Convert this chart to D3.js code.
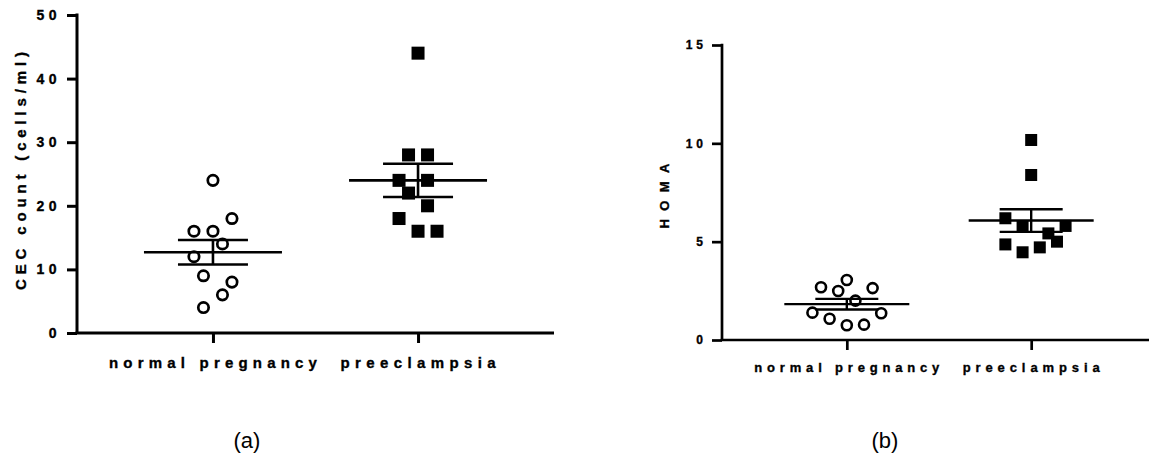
<!DOCTYPE html>
<html>
<head>
<meta charset="utf-8">
<script src="https://cdn.jsdelivr.net/npm/d3@7"></script>
<style>
  body { margin: 0; background: #fff; }
  svg { display: block; }
  text { font-family: "Liberation Sans", Arial, sans-serif; }
  .heavy { stroke: #000; stroke-width: 0.35px; }
</style>
</head>
<body>
<svg id="chart" width="1149" height="471"></svg>
<script>
// groups on the x axis
var groups = ["normal pregnancy", "preeclampsia"];

// panel (a): CEC count
var cecNormal = [24, 16, 16, 18, 14, 12, 9, 8, 6, 4];
var cecNormalCol = [0, -2, 0, 2, 1, -2, -1, 2, 1, -1];
var cecPre = [44, 28, 28, 24, 24, 22, 20, 18, 16, 16];
var cecPreCol = [0, -1, 1, -2, 1, -1, 1, -2, 0, 2];
var cecTicks = [0, 10, 20, 30, 40, 50];

// panel (b): HOMA
var homaNormal = [3.05, 2.68, 2.64, 2.49, 2.0, 1.39, 1.36, 1.08, 0.75, 0.78];
var homaNormalCol = [0, -3, 3, -1, 1, -4, 4, -2, 0, 2];
var homaPre = [10.17, 8.39, 6.19, 5.76, 5.80, 5.42, 5.00, 4.86, 4.71, 4.46];
var homaPreCol = [0, 0, -3, -1, 4, 2, 3, -3, 1, -1];
var homaTicks = [0, 5, 10, 15];

var svg = d3.select('#chart');

function drawPanel(p) {
    var g = svg.append('g');

    var x = d3.scalePoint().domain(groups).range([p.left, p.right]).padding(p.pad);
    var y = d3.scaleLinear().domain([0, p.yMax]).range([p.bottom, p.top]);
    var col = d3.scaleLinear().domain([0, 1]).range([0, p.colStep]);

    // y axis (ticks and labels from d3, heavy line drawn over the domain)
    var yAxisG = g.append('g')
        .attr('transform', 'translate(' + p.left + ',0)')
        .call(d3.axisLeft(y).tickValues(p.ticks).tickSize(10).tickSizeOuter(0).tickPadding(p.tickPad));
    yAxisG.selectAll('text')
        .attr('class', 'heavy')
        .style('font-size', p.tickFont + 'px')
        .style('font-weight', 'bold')
        .style('letter-spacing', p.tickSpacing + 'px')
        .attr('fill', '#000');

    var xAxisG = g.append('g')
        .attr('transform', 'translate(0,' + p.bottom + ')')
        .call(d3.axisBottom(x).tickSize(10).tickSizeOuter(0).tickFormat(''));

    [yAxisG, xAxisG].forEach(function(a) {
        a.select('.domain').remove();
        a.selectAll('.tick line')
            .attr('stroke', '#000')
            .attr('stroke-width', p.axisW);
    });

    var yr = y.range(), xr = x.range();
    g.append('line')
        .attr('x1', p.left).attr('x2', p.left)
        .attr('y1', yr[0]).attr('y2', yr[1] - p.axisW / 2)
        .attr('stroke', '#000').attr('stroke-width', p.axisW);
    g.append('line')
        .attr('x1', xr[0] - p.axisW / 2).attr('x2', xr[1])
        .attr('y1', p.bottom).attr('y2', p.bottom)
        .attr('stroke', '#000').attr('stroke-width', p.axisW);

    // category labels, letter-spaced like the original
    g.selectAll('.cat').data(groups).enter()
        .append('text')
        .attr('class', 'cat heavy')
        .attr('x', function(d) { return x(d); })
        .attr('y', p.catY)
        .attr('text-anchor', 'middle')
        .attr('textLength', function(d, i) { return p.catWidths[i]; })
        .attr('lengthAdjust', 'spacing')
        .style('font-size', p.catFont + 'px')
        .style('font-weight', 'bold')
        .text(function(d) { return d; });

    // y axis title
    g.append('text')
        .attr('class', 'heavy')
        .attr('transform', 'translate(' + p.titleX + ',' + p.titleY + ') rotate(-90)')
        .attr('text-anchor', 'middle')
        .attr('textLength', p.titleWidth)
        .attr('lengthAdjust', 'spacing')
        .style('font-size', p.titleFont + 'px')
        .style('font-weight', 'bold')
        .text(p.title);

    // points
    var normal = p.normal.map(function(v, i) { return {v: v, c: p.normalCol[i]}; });
    var pre = p.pre.map(function(v, i) { return {v: v, c: p.preCol[i]}; });

    g.selectAll('.circ').data(normal).enter()
        .append('circle')
        .attr('cx', function(d) { return x(groups[0]) + col(d.c); })
        .attr('cy', function(d) { return y(d.v); })
        .attr('r', p.r)
        .attr('fill', '#fff')
        .attr('stroke', '#000')
        .attr('stroke-width', p.circW);

    g.selectAll('.sq').data(pre).enter()
        .append('rect')
        .attr('x', function(d) { return x(groups[1]) + col(d.c) - p.sq / 2; })
        .attr('y', function(d) { return y(d.v) - p.sq / 2; })
        .attr('width', p.sq)
        .attr('height', p.sq)
        .attr('fill', '#000');

    // mean +- SEM
    [p.normal, p.pre].forEach(function(vals, i) {
        var m = d3.mean(vals);
        var sem = d3.deviation(vals) / Math.sqrt(vals.length);
        var cx = x(groups[i]);
        var lines = [
            [cx - p.meanHalf, y(m), cx + p.meanHalf, y(m)],
            [cx - p.capHalf, y(m + sem), cx + p.capHalf, y(m + sem)],
            [cx - p.capHalf, y(m - sem), cx + p.capHalf, y(m - sem)],
            [cx, y(m + sem), cx, y(m - sem)]
        ];
        g.selectAll('.err' + i).data(lines).enter()
            .append('line')
            .attr('x1', function(d) { return d[0]; })
            .attr('y1', function(d) { return d[1]; })
            .attr('x2', function(d) { return d[2]; })
            .attr('y2', function(d) { return d[3]; })
            .attr('stroke', '#000')
            .attr('stroke-width', p.lineW);
    });

    // panel letter
    g.append('text')
        .attr('x', p.letterX)
        .attr('y', 448)
        .attr('text-anchor', 'middle')
        .style('font-size', '22px')
        .text(p.letter);
}

drawPanel({
    left: 77, right: 554, top: 15, bottom: 333, pad: 0.663,
    yMax: 50, ticks: cecTicks,
    tickFont: 14, tickSpacing: 4.5, tickPad: 6,
    catFont: 15, catY: 368, catWidths: [208, 155],
    title: 'CEC count (cells/ml)', titleX: 26, titleY: 171, titleWidth: 238, titleFont: 15,
    normal: cecNormal, normalCol: cecNormalCol, pre: cecPre, preCol: cecPreCol,
    colStep: 9.5, r: 5.2, circW: 2.7, sq: 13, meanHalf: 69, capHalf: 35,
    axisW: 3, lineW: 2.6, letter: '(a)', letterX: 247
});

drawPanel({
    left: 722, right: 1156, top: 45, bottom: 340, pad: 0.677,
    yMax: 15, ticks: homaTicks,
    tickFont: 12, tickSpacing: 4, tickPad: 5,
    catFont: 13, catY: 372, catWidths: [185, 137],
    title: 'HOMA', titleX: 669, titleY: 196, titleWidth: 65, titleFont: 13,
    normal: homaNormal, normalCol: homaNormalCol, pre: homaPre, preCol: homaPreCol,
    colStep: 8.6, r: 5, circW: 2.6, sq: 12, meanHalf: 62.5, capHalf: 31.5,
    axisW: 2.7, lineW: 2.4, letter: '(b)', letterX: 885
});
</script>
</body>
</html>
